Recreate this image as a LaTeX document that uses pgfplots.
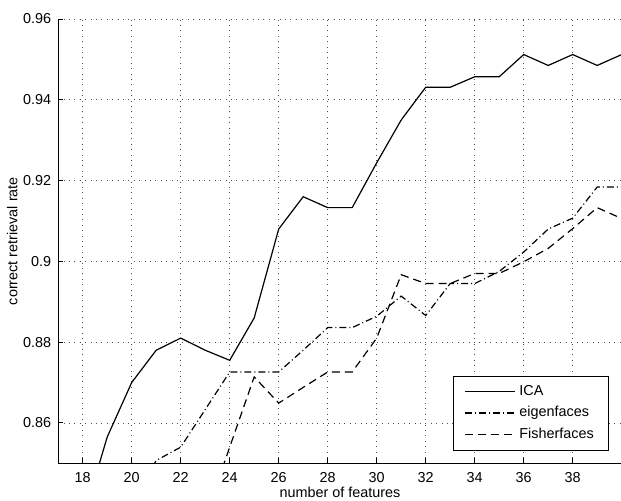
\documentclass[border=0pt]{standalone}
\usepackage{fontspec}
\setmainfont{Liberation Sans}
\usepackage{pgfplots}
\pgfplotsset{compat=1.18}
\begin{document}
\begin{tikzpicture}
\begin{axis}[
  at={(0,0)}, anchor=origin,
  scale only axis,
  width=281.75pt, height=222.15pt,
  xmin=17, xmax=40, ymin=0.85, ymax=0.96,
  axis x line*=bottom, axis y line*=left,
  axis line style={line width=0.5pt, -},
  xtick={18,20,...,38},
  ytick={0.86,0.88,...,0.96},
  tick align=inside,
  major tick length=2.5pt,
  tick style={line width=0.5pt, black},
  grid=major,
  major grid style={black!70, line width=0.4pt, dash pattern=on 0.5pt off 2.2pt},
  font=\fontsize{7.2}{8.6}\selectfont,
  /pgf/number format/assume math mode=true,
  yticklabel style={/pgf/number format/fixed, /pgf/number format/precision=2},
  xticklabel style={yshift=-1.2pt},
  xlabel={number of features},
  ylabel={correct retrieval rate},
  xlabel style={at={(axis description cs:0.5,0)}, anchor=base, yshift=-17.1pt},
  ylabel style={at={(axis description cs:0,0.5)}, anchor=center, yshift=23pt},
  legend style={at={(0.978,0.0284)}, anchor=south east, draw=black, line width=0.5pt,
    font=\fontsize{7.2}{8.6}\selectfont, inner xsep=5.5pt, inner ysep=2.5pt,
    row sep=0pt, cells={anchor=west}},
  legend image code/.code={\draw[#1] (0pt,0pt) -- (25pt,0pt);},
  legend cell align=left,
  clip=true,
]
\addplot[black, line width=0.6pt] coordinates {
(18,0.836) (19,0.8565) (20,0.870) (21,0.878) (22,0.881) (23,0.878) (24,0.8755)
(25,0.886) (26,0.908) (27,0.916) (28,0.9133) (29,0.9133) (30,0.9244) (31,0.935)
(32,0.9431) (33,0.9431) (34,0.9457) (35,0.9457) (36,0.9512) (37,0.9485)
(38,0.9512) (39,0.9485) (40,0.9512)};
\addlegendentry{ICA}
\addplot[black, line width=0.6pt, dash pattern=on 3.5pt off 1.5pt on 0.5pt off 1.5pt] coordinates {
(20,0.840) (21,0.8507) (22,0.854) (23,0.8633) (24,0.8726) (25,0.8726) (26,0.8726)
(27,0.878) (28,0.8836) (29,0.8836) (30,0.8864) (31,0.8914) (32,0.8866) (33,0.8945)
(34,0.8945) (35,0.8975) (36,0.9023) (37,0.908) (38,0.9107) (39,0.9184) (40,0.9184)};
\addlegendentry{eigenfaces}
\addplot[black, line width=0.6pt, dash pattern=on 4pt off 2.5pt] coordinates {
(23,0.8366) (24,0.854) (25,0.8714) (26,0.8649) (27,0.8688) (28,0.8726) (29,0.8726)
(30,0.881) (31,0.8967) (32,0.8945) (33,0.8945) (34,0.897) (35,0.897) (36,0.8999)
(37,0.9032) (38,0.9081) (39,0.9133) (40,0.9106)};
\addlegendentry{Fisherfaces}
\end{axis}
\pgfresetboundingbox
\path (-29.1pt,-18.35pt) rectangle (281.4pt,231.65pt);
\end{tikzpicture}
\end{document}
